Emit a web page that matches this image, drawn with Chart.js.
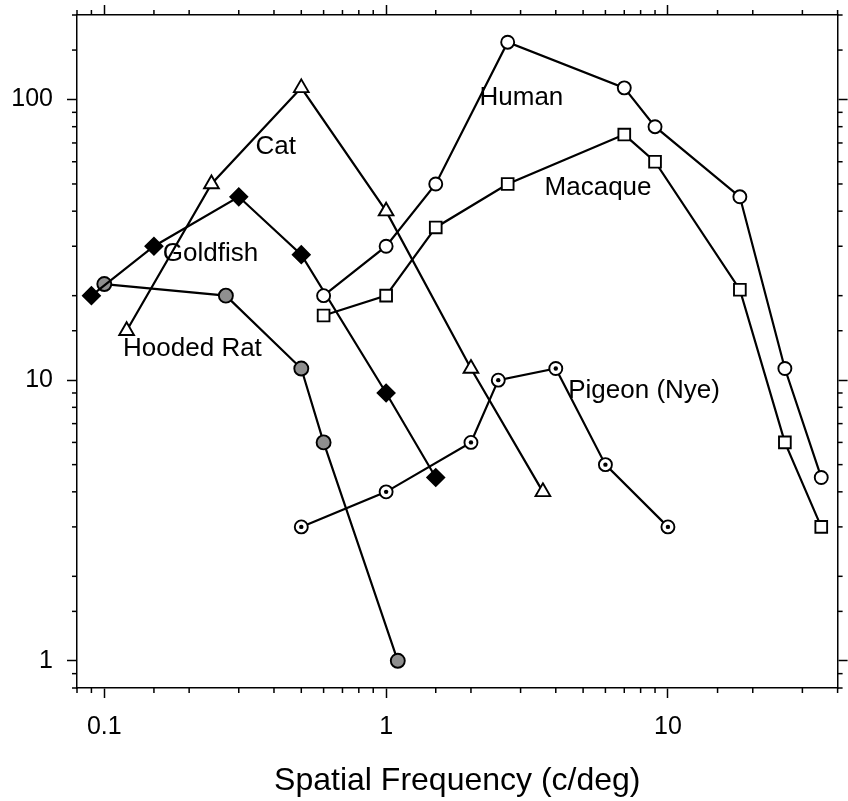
<!DOCTYPE html>
<html>
<head>
<meta charset="utf-8">
<script src="https://cdn.jsdelivr.net/npm/chart.js@4.4.1/dist/chart.umd.min.js"></script>
<style>
  html, body { margin: 0; padding: 0; background: #fff; }
  #wrap { width: 848px; height: 801px; }
</style>
</head>
<body>
<div id="wrap"><canvas id="sfChart" width="848" height="801"></canvas></div>
<script>
// contrast sensitivity vs spatial frequency (c/deg)
const humanFreq = [0.6, 1, 1.5, 2.7, 7, 9, 18, 26, 35];
const humanSens = [20, 30, 50, 160, 110, 80, 45, 11, 4.5];
const macaqueFreq = [0.6, 1, 1.5, 2.7, 7, 9, 18, 26, 35];
const macaqueSens = [17, 20, 35, 50, 75, 60, 21, 6, 3];
const catFreq = [0.12, 0.24, 0.5, 1, 2, 3.6];
const catSens = [15, 50, 110, 40, 11, 4];
const goldfishFreq = [0.09, 0.15, 0.3, 0.5, 1, 1.5];
const goldfishSens = [20, 30, 45, 28, 9, 4.5];
const ratFreq = [0.1, 0.27, 0.5, 0.6, 1.1];
const ratSens = [22, 20, 11, 6, 1];
const pigeonFreq = [0.5, 1, 2, 2.5, 4, 6, 10];
const pigeonSens = [3, 4, 6, 10, 11, 5, 3];

const xTickLabels = [0.1, 1, 10];
const yTickLabels = [1, 10, 100];

// names written next to each curve
const curveNames = ['Human', 'Cat', 'Macaque', 'Goldfish', 'Hooded Rat', 'Pigeon (Nye)'];
const nameFreq = [3.02, 0.406, 5.65, 0.238, 0.2055, 8.23];
const nameSens = [101, 68, 48.3, 28.1, 12.9, 9.13];

const FONT = 'Liberation Sans, Arial, Helvetica, sans-serif';

const pts = (xs, ys) => xs.map((x, i) => ({ x: x, y: ys[i] }));
const isDecade = v => Math.abs(Math.log10(v) - Math.round(Math.log10(v))) < 1e-6;
const hasLabel = (list, v) => list.some(t => Math.abs(t - v) / t < 1e-6);

function series(data, style, radius, fill) {
    return {
        data: data,
        showLine: true,
        borderColor: '#000',
        borderWidth: 2.2,
        tension: 0,
        pointStyle: style,
        pointRadius: radius,
        pointBackgroundColor: fill,
        pointBorderColor: '#000',
        pointBorderWidth: 1.9
    };
}

const pigeonDots = {
    data: pts(pigeonFreq, pigeonSens),
    showLine: false,
    pointStyle: 'circle',
    pointRadius: 2.2,
    pointBackgroundColor: '#000',
    pointBorderWidth: 0
};

// short ticks for the in-between values (2,3,...9)
const minorTicks = {
    id: 'minorTicks',
    afterDraw(chart) {
        const ctx = chart.ctx;
        ctx.save();
        ctx.strokeStyle = '#000';
        ctx.lineWidth = 1.5;
        Object.values(chart.scales).forEach(s => {
            s.ticks.forEach(t => {
                if (isDecade(t.value)) return;
                const p = s.getPixelForValue(t.value);
                ctx.beginPath();
                if (s.position === 'bottom') { ctx.moveTo(p, s.top); ctx.lineTo(p, s.top + 5); }
                else if (s.position === 'top') { ctx.moveTo(p, s.bottom); ctx.lineTo(p, s.bottom - 5); }
                else if (s.position === 'left') { ctx.moveTo(s.right, p); ctx.lineTo(s.right - 5, p); }
                else { ctx.moveTo(s.left, p); ctx.lineTo(s.left + 5, p); }
                ctx.stroke();
            });
        });
        ctx.restore();
    }
};

const curveLabels = {
    id: 'curveLabels',
    afterDatasetsDraw(chart) {
        const ctx = chart.ctx;
        const xs = chart.scales.x, ys = chart.scales.y;
        ctx.save();
        ctx.fillStyle = '#000';
        ctx.font = '26px ' + FONT;
        ctx.textAlign = 'center';
        ctx.textBaseline = 'middle';
        curveNames.forEach((name, i) => {
            ctx.fillText(name, xs.getPixelForValue(nameFreq[i]), ys.getPixelForValue(nameSens[i]));
        });
        ctx.restore();
    }
};

function majorTickColor(c) {
    return c.tick && isDecade(c.tick.value) ? '#000' : 'rgba(0,0,0,0)';
}

// fixed box sizes so the plot frame lands where it is in the figure
function fixBox(size) {
    return s => {
        if (s.isHorizontal()) s.height = size; else s.width = size;
        s.paddingTop = 0; s.paddingBottom = 0; s.paddingLeft = 0; s.paddingRight = 0;
    };
}

const gridOpts = {
    drawOnChartArea: false,
    drawTicks: true,
    tickLength: 10,
    tickWidth: 1.5,
    tickColor: majorTickColor
};
const borderOpts = { display: true, color: '#000', width: 1.5 };

new Chart(document.getElementById('sfChart'), {
    type: 'scatter',
    data: {
        datasets: [
            series(pts(humanFreq, humanSens), 'circle', 6.5, '#fff'),
            series(pts(macaqueFreq, macaqueSens), 'rect', 8.3, '#fff'),
            series(pts(catFreq, catSens), 'triangle', 8.5, '#fff'),
            series(pts(goldfishFreq, goldfishSens), 'rectRot', 8.5, '#000'),
            series(pts(ratFreq, ratSens), 'circle', 7, '#8f8f8f'),
            pigeonDots,
            series(pts(pigeonFreq, pigeonSens), 'circle', 6.5, '#fff')
        ]
    },
    options: {
        responsive: false,
        animation: false,
        layout: { padding: 0 },
        plugins: {
            legend: { display: false },
            tooltip: { enabled: false }
        },
        scales: {
            x: {
                type: 'logarithmic',
                position: 'bottom',
                min: 0.08,
                max: 40,
                grid: gridOpts,
                border: borderOpts,
                ticks: {
                    autoSkip: false,
                    maxRotation: 0,
                    padding: 14,
                    color: '#000',
                    font: { family: FONT, size: 25 },
                    callback: v => hasLabel(xTickLabels, v) ? String(v) : ''
                },
                title: {
                    display: true,
                    text: 'Spatial Frequency (c/deg)',
                    color: '#000',
                    font: { family: FONT, size: 32 },
                    padding: { top: 0, bottom: 1 }
                },
                afterFit: fixBox(113)
            },
            x2: {
                type: 'logarithmic',
                position: 'top',
                min: 0.08,
                max: 40,
                grid: gridOpts,
                border: borderOpts,
                ticks: { autoSkip: false, callback: () => '' },
                afterFit: fixBox(15)
            },
            y: {
                type: 'logarithmic',
                position: 'left',
                min: 0.8,
                max: 200,
                grid: gridOpts,
                border: borderOpts,
                ticks: {
                    autoSkip: false,
                    padding: 14,
                    color: '#000',
                    font: { family: FONT, size: 25 },
                    callback: v => hasLabel(yTickLabels, v) ? String(v) : ''
                },
                afterFit: fixBox(77)
            },
            y2: {
                type: 'logarithmic',
                position: 'right',
                min: 0.8,
                max: 200,
                grid: gridOpts,
                border: borderOpts,
                ticks: { autoSkip: false, callback: () => '' },
                afterFit: fixBox(3)
            }
        }
    },
    plugins: [minorTicks, curveLabels]
});
</script>
</body>
</html>
